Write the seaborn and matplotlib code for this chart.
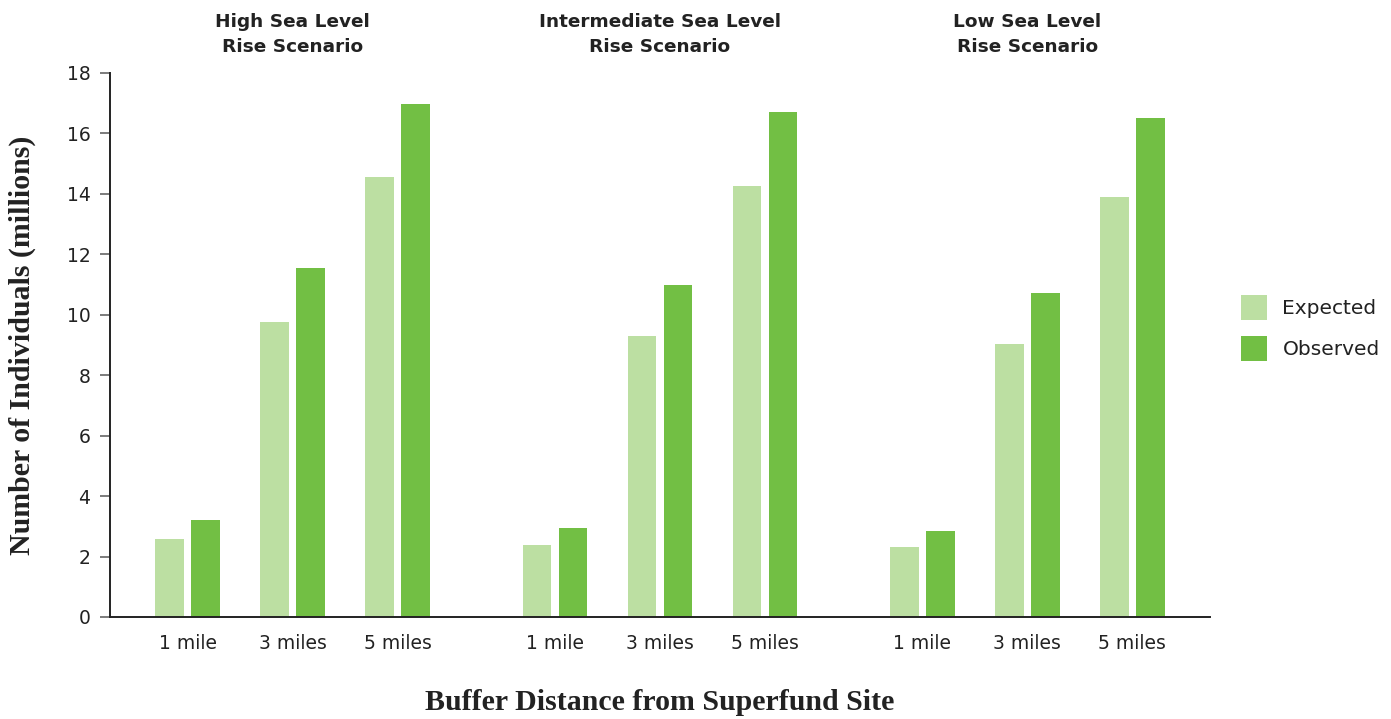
import matplotlib
matplotlib.use("Agg")
import matplotlib.pyplot as plt
import seaborn as sns
import pandas as pd
import matplotlib.transforms as mtransforms

scenarios = ["High Sea Level\nRise Scenario", "Intermediate Sea Level\nRise Scenario", "Low Sea Level\nRise Scenario"]
distances = ["1 mile", "3 miles", "5 miles"]
series = ["Expected", "Observed"]
expected = [2.58, 9.76, 14.56, 2.38, 9.30, 14.26, 2.32, 9.03, 13.90]
observed = [3.21, 11.55, 16.98, 2.95, 10.99, 16.71, 2.85, 10.72, 16.51]
positions = [0, 1, 2, 3.5, 4.5, 5.5, 7, 8, 9]
tick_labels = distances * 3
colors = {"Expected": "#bcdfa2", "Observed": "#72bf44"}

rows = []
for i, p in enumerate(positions):
    rows.append({"pos": p, "series": "Expected", "value": expected[i]})
    rows.append({"pos": p, "series": "Observed", "value": observed[i]})
df = pd.DataFrame(rows)

sns.set_style("white")
plt.rcParams["font.family"] = ["DejaVu Sans"]

fig = plt.figure(figsize=(13.91, 7.19), dpi=100)
ax = fig.add_axes([110/1391, 1-617/719, 1100/1391, 544/719])

sns.barplot(data=df, x="pos", y="value", hue="series", native_scale=True,
            palette=colors, hue_order=series, width=0.686, gap=0.2,
            dodge=True, ax=ax, legend=True, linewidth=0, saturation=1)

ax.set_xlim(-0.74, 9.74)
ax.set_ylim(0, 18)
ax.set_yticks(range(0, 19, 2))
ax.set_xticks(positions)
ax.set_xticklabels(tick_labels)
ax.tick_params(axis="x", length=0, pad=12, labelsize=13.5, labelcolor="#222222")
ax.tick_params(axis="y", length=7, width=1.2, color="#666666", pad=7, labelsize=13.5, labelcolor="#222222", left=True)
for s in ["top", "right"]:
    ax.spines[s].set_visible(False)
for s in ["left", "bottom"]:
    ax.spines[s].set_color("#222222")
    ax.spines[s].set_linewidth(1.4)
ax.set_xlabel("")
ax.set_ylabel("")

trans = mtransforms.blended_transform_factory(ax.transData, ax.transAxes)
for k, sc in enumerate(scenarios):
    ax.text(positions[3*k+1], 1.0715, sc, transform=trans, ha="center", va="center",
            fontsize=13.3, fontweight="bold", color="#222222", linespacing=1.5)

fig.text(22/1391, 1-345/719, "Number of Individuals (millions)", rotation=90,
         ha="center", va="center", fontsize=21.5, fontweight="bold",
         family=["Liberation Serif", "DejaVu Serif"], color="#222222")
fig.text(660/1391, 1-702/719, "Buffer Distance from Superfund Site",
         ha="center", va="center", fontsize=21.5, fontweight="bold",
         family=["Liberation Serif", "DejaVu Serif"], color="#222222")

handles, labels = ax.get_legend_handles_labels()
ax.legend(handles, labels, loc="center left", bbox_to_anchor=(1223/1391, 1-328/719),
          bbox_transform=fig.transFigure, frameon=False, fontsize=14.5,
          handlelength=1.3, handleheight=1.55, labelspacing=0.75, handletextpad=0.75,
          labelcolor="#222222")

fig.savefig("out.png", dpi=100)
